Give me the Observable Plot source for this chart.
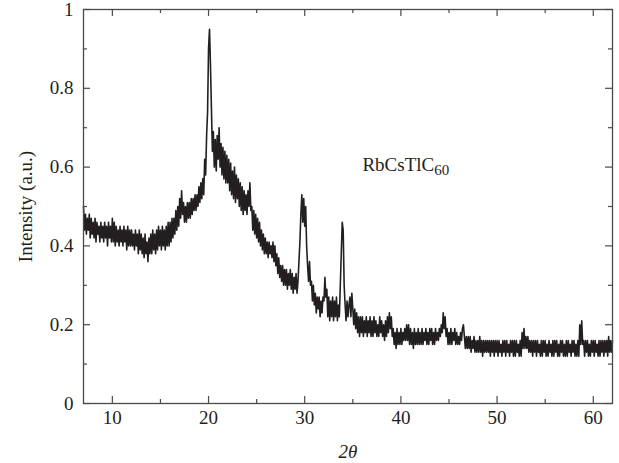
<!DOCTYPE html>
<html>
<head>
<meta charset="utf-8">
<script src="https://cdn.jsdelivr.net/npm/d3@7"></script>
<script src="https://cdn.jsdelivr.net/npm/@observablehq/plot@0.6"></script>
<style>
  html, body { margin: 0; padding: 0; background: #fff; }
</style>
</head>
<body>
<div id="chart"></div>
<script>
// XRD scan: 2θ from 7° to 62°, step 0.1°
const scanStart = 7;
const scanStep = 0.1;
const intensity = [
  0.50,0.44,0.48,0.43,0.47,0.44,0.48,0.42,0.47,0.43,
  0.46,0.42,0.47,0.41,0.46,0.43,0.45,0.41,0.46,0.42,
  0.45,0.41,0.46,0.42,0.45,0.40,0.46,0.42,0.45,0.41,
  0.47,0.41,0.46,0.40,0.45,0.41,0.44,0.40,0.45,0.41,
  0.44,0.40,0.45,0.41,0.44,0.39,0.45,0.40,0.44,0.40,
  0.44,0.40,0.43,0.39,0.44,0.40,0.43,0.38,0.44,0.39,
  0.43,0.38,0.42,0.37,0.43,0.38,0.41,0.36,0.42,0.38,
  0.43,0.38,0.44,0.39,0.43,0.38,0.44,0.39,0.45,0.40,
  0.44,0.39,0.45,0.40,0.44,0.39,0.45,0.40,0.46,0.40,
  0.46,0.41,0.47,0.42,0.47,0.43,0.49,0.44,0.50,0.45,
  0.52,0.47,0.54,0.48,0.51,0.46,0.50,0.46,0.51,0.47,
  0.51,0.47,0.52,0.48,0.52,0.49,0.53,0.49,0.53,0.50,
  0.55,0.51,0.56,0.52,0.57,0.53,0.62,0.58,0.68,0.74,
  0.90,0.95,0.86,0.75,0.64,0.69,0.60,0.67,0.59,0.68,
  0.62,0.70,0.60,0.66,0.58,0.65,0.57,0.64,0.56,0.63,
  0.56,0.62,0.54,0.61,0.53,0.59,0.52,0.60,0.51,0.58,
  0.52,0.57,0.50,0.56,0.49,0.55,0.48,0.54,0.49,0.53,
  0.48,0.54,0.50,0.56,0.49,0.50,0.44,0.49,0.43,0.48,
  0.42,0.47,0.41,0.46,0.40,0.44,0.39,0.43,0.38,0.42,
  0.38,0.41,0.37,0.41,0.38,0.40,0.37,0.41,0.36,0.40,
  0.35,0.38,0.33,0.37,0.32,0.35,0.31,0.35,0.30,0.34,
  0.30,0.34,0.29,0.33,0.30,0.34,0.29,0.33,0.28,0.32,
  0.29,0.33,0.28,0.31,0.36,0.41,0.48,0.53,0.46,0.52,
  0.45,0.50,0.40,0.35,0.31,0.36,0.30,0.31,0.26,0.30,
  0.25,0.28,0.23,0.27,0.24,0.27,0.22,0.26,0.23,0.27,
  0.26,0.32,0.27,0.29,0.22,0.27,0.21,0.26,0.22,0.27,
  0.21,0.26,0.22,0.27,0.21,0.25,0.22,0.30,0.38,0.46,
  0.44,0.30,0.25,0.21,0.26,0.22,0.25,0.27,0.22,0.28,
  0.24,0.20,0.24,0.19,0.23,0.18,0.22,0.17,0.22,0.18,
  0.22,0.17,0.21,0.18,0.22,0.17,0.21,0.18,0.22,0.17,
  0.21,0.17,0.22,0.18,0.21,0.17,0.20,0.17,0.22,0.18,
  0.21,0.17,0.20,0.16,0.21,0.17,0.22,0.18,0.23,0.19,
  0.22,0.17,0.19,0.15,0.18,0.14,0.19,0.15,0.18,0.15,
  0.19,0.15,0.18,0.16,0.19,0.16,0.20,0.16,0.20,0.15,
  0.19,0.15,0.18,0.14,0.19,0.15,0.18,0.15,0.19,0.15,
  0.18,0.15,0.19,0.15,0.18,0.16,0.19,0.15,0.18,0.15,
  0.19,0.16,0.19,0.15,0.18,0.15,0.19,0.16,0.18,0.16,
  0.19,0.17,0.20,0.18,0.23,0.19,0.22,0.17,0.19,0.15,
  0.18,0.15,0.19,0.15,0.18,0.16,0.19,0.15,0.18,0.15,
  0.17,0.15,0.18,0.16,0.19,0.20,0.17,0.14,0.17,0.14,
  0.17,0.14,0.17,0.13,0.16,0.14,0.17,0.13,0.16,0.13,
  0.16,0.13,0.17,0.13,0.16,0.12,0.16,0.13,0.16,0.13,
  0.16,0.13,0.16,0.12,0.16,0.13,0.16,0.12,0.16,0.13,
  0.16,0.12,0.16,0.13,0.15,0.12,0.16,0.13,0.16,0.12,
  0.16,0.13,0.15,0.12,0.16,0.13,0.16,0.12,0.16,0.12,
  0.16,0.13,0.15,0.12,0.16,0.12,0.18,0.14,0.19,0.14,
  0.17,0.14,0.17,0.13,0.16,0.13,0.16,0.12,0.16,0.13,
  0.16,0.12,0.16,0.13,0.15,0.12,0.16,0.12,0.16,0.13,
  0.16,0.12,0.15,0.12,0.16,0.13,0.15,0.12,0.16,0.12,
  0.16,0.13,0.16,0.12,0.15,0.12,0.16,0.13,0.16,0.12,
  0.15,0.12,0.16,0.12,0.16,0.13,0.15,0.12,0.16,0.13,
  0.16,0.12,0.15,0.12,0.16,0.12,0.20,0.15,0.21,0.15,
  0.16,0.12,0.16,0.13,0.16,0.12,0.15,0.12,0.16,0.13,
  0.16,0.12,0.16,0.13,0.15,0.12,0.16,0.12,0.16,0.13,
  0.16,0.12,0.16,0.13,0.16,0.12,0.17,0.13,0.16,0.13,
  0.16
];

const xMajor = [10, 20, 30, 40, 50, 60];
const xMinor = [15, 25, 35, 45, 55];
const yMajor = [0, 0.2, 0.4, 0.6, 0.8, 1];
const yMinor = [0.1, 0.3, 0.5, 0.7, 0.9];
const xDomain = [7, 62];
const yDomain = [0, 1];

const xLabel = "2θ";
const yLabel = "Intensity (a.u.)";
const sampleName = "RbCsTlC";
const sampleSub = "60";
const sampleAt = [{x: 36.0, y: 0.605}];

const scan = intensity.map((v, i) => ({x: +(scanStart + i * scanStep).toFixed(2), y: v}));

const W = 619, H = 463;
const mL = 83, mR = 7, mT = 9, mB = 60;
const plotW = W - mL - mR, plotH = H - mT - mB;
const major = 7, minor = 4;
const axisColor = "#4a4a4a";
const ink = "#231f20";
const fontFamily = "'Liberation Serif', 'Times New Roman', serif";

const chart = Plot.plot({
  width: W,
  height: H,
  marginLeft: mL,
  marginRight: mR,
  marginTop: mT,
  marginBottom: mB,
  style: {fontFamily, fontSize: "19px", background: "#fff", color: ink},
  x: {domain: xDomain, ticks: xMajor},
  y: {domain: yDomain, ticks: yMajor},
  marks: [
    Plot.line(scan, {x: "x", y: "y", stroke: ink, strokeWidth: 1.6}),
    Plot.frame({stroke: axisColor, strokeWidth: 1.3}),
    // inward ticks, bottom & top
    Plot.tickX(xMajor, {x: d => d, stroke: axisColor, strokeWidth: 1.2, insetTop: plotH - major}),
    Plot.tickX(xMinor, {x: d => d, stroke: axisColor, strokeWidth: 1.2, insetTop: plotH - minor}),
    Plot.tickX(xMajor, {x: d => d, stroke: axisColor, strokeWidth: 1.2, insetBottom: plotH - major}),
    Plot.tickX(xMinor, {x: d => d, stroke: axisColor, strokeWidth: 1.2, insetBottom: plotH - minor}),
    // inward ticks, left & right
    Plot.tickY(yMajor, {y: d => d, stroke: axisColor, strokeWidth: 1.2, insetRight: plotW - major}),
    Plot.tickY(yMinor, {y: d => d, stroke: axisColor, strokeWidth: 1.2, insetRight: plotW - minor}),
    Plot.tickY(yMajor, {y: d => d, stroke: axisColor, strokeWidth: 1.2, insetLeft: plotW - major}),
    Plot.tickY(yMinor, {y: d => d, stroke: axisColor, strokeWidth: 1.2, insetLeft: plotW - minor}),
    Plot.axisX({ticks: xMajor, tickSize: 0, tickPadding: 7, label: null, fontSize: 19, tickFormat: d => String(d)}),
    Plot.axisY({ticks: yMajor, tickSize: 0, tickPadding: 10, label: null, fontSize: 19, tickFormat: d => String(d)}),
    Plot.text([xLabel], {text: d => d, frameAnchor: "bottom", dy: 48, fontStyle: "italic", fontSize: 19, textAnchor: "middle", lineAnchor: "middle", fill: ink}),
    Plot.text([yLabel], {text: d => d, frameAnchor: "left", dx: -58, rotate: -90, fontSize: 19, textAnchor: "middle", lineAnchor: "middle", fill: ink}),
    Plot.text(sampleAt, {x: "x", y: "y", text: () => sampleName, textAnchor: "start", lineAnchor: "middle", fontSize: 19, fill: ink, className: "sample-label"})
  ]
});

document.getElementById("chart").appendChild(chart);

// add the subscript to the sample name as a real tspan
d3.select(chart).selectAll("g.sample-label text").each(function () {
  d3.select(this).append("tspan")
    .attr("font-size", "15px")
    .attr("dy", "0.28em")
    .attr("fill", ink)
    .text(sampleSub);
});
</script>
</body>
</html>
